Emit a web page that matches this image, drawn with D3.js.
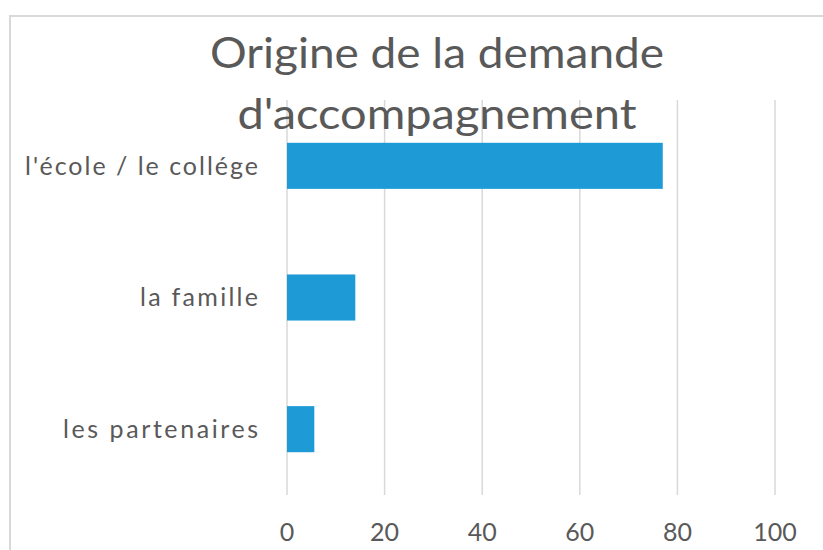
<!DOCTYPE html>
<html>
<head>
<meta charset="utf-8">
<script src="https://cdn.jsdelivr.net/npm/d3@7"></script>
<style>
  body { margin: 0; background: #fff; }
  text { font-family: Lato, "Open Sans", sans-serif; fill: #595959; }
</style>
</head>
<body>
<script>
// chart data
const categories = ["l'école / le collége", "la famille", "les partenaires"];
const values = [77, 14, 5.6];
const tickValues = [0, 20, 40, 60, 80, 100];
const titleLines = ["Origine de la demande", "d'accompagnement"];

const width = 823, height = 550;
const margin = {top: 100, right: 48, bottom: 55, left: 287};

const svg = d3.select("body").append("svg")
  .attr("width", width)
  .attr("height", height);

// chart area border (only top and left visible)
svg.append("path")
  .attr("d", "M10,560 L10,16 L840,16")
  .attr("fill", "none")
  .attr("stroke", "#d9d9d9")
  .attr("stroke-width", 2);

const x = d3.scaleLinear()
  .domain([0, 100])
  .range([margin.left, width - margin.right]);

const y = d3.scaleBand()
  .domain(categories)
  .range([margin.top, height - margin.bottom]);

// gridlines
svg.append("g")
  .selectAll("line")
  .data(tickValues)
  .join("line")
  .attr("x1", d => x(d))
  .attr("x2", d => x(d))
  .attr("y1", margin.top)
  .attr("y2", height - margin.bottom)
  .attr("stroke", "#d9d9d9")
  .attr("stroke-width", 1.5);

// bars
const barH = y.bandwidth() * 0.35;
svg.append("g")
  .selectAll("rect")
  .data(values)
  .join("rect")
  .attr("x", x(0))
  .attr("y", (d, i) => y(categories[i]) + y.bandwidth() / 2 - barH / 2)
  .attr("width", d => x(d) - x(0))
  .attr("height", barH)
  .attr("fill", "#1e9bd7");

const labelW = [233, 118, 195];
svg.append("g")
  .selectAll("text")
  .data(categories)
  .join("text")
  .attr("x", 258)
  .attr("y", d => y(d) + y.bandwidth() / 2)
  .attr("dy", "0.35em")
  .attr("text-anchor", "end")
  .attr("textLength", (d, i) => labelW[i])
  .attr("lengthAdjust", "spacing")
  .style("font-size", "25px")
  .text(d => d);

// x axis labels
svg.append("g")
  .selectAll("text")
  .data(tickValues)
  .join("text")
  .attr("x", d => x(d))
  .attr("y", 532)
  .attr("dy", "0.35em")
  .attr("text-anchor", "middle")
  .style("font-size", "25px")
  .text(d => d);

// title
const titleY = [68, 129];
const titleW = [454, 399];
svg.append("g")
  .selectAll("text")
  .data(titleLines)
  .join("text")
  .attr("x", 437)
  .attr("y", (d, i) => titleY[i])
  .attr("text-anchor", "middle")
  .attr("textLength", (d, i) => titleW[i])
  .attr("lengthAdjust", "spacingAndGlyphs")
  .style("font-size", "42px")
  .text(d => d);
</script>
</body>
</html>
